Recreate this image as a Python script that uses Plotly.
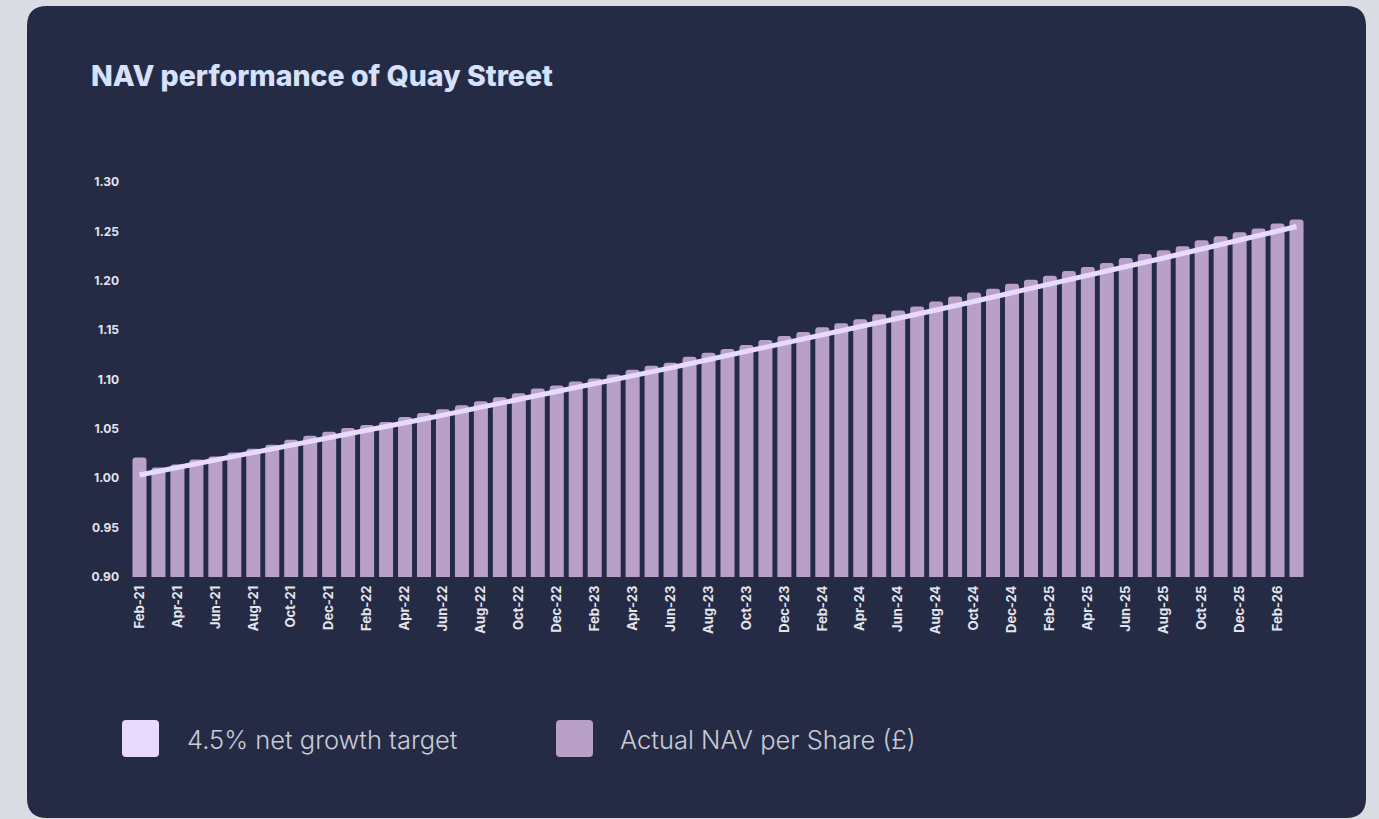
import plotly.graph_objects as go

months = [
    "Feb-21", "Mar-21", "Apr-21", "May-21", "Jun-21", "Jul-21", "Aug-21", "Sep-21", "Oct-21", "Nov-21", "Dec-21",
    "Jan-22", "Feb-22", "Mar-22", "Apr-22", "May-22", "Jun-22", "Jul-22", "Aug-22", "Sep-22", "Oct-22", "Nov-22", "Dec-22",
    "Jan-23", "Feb-23", "Mar-23", "Apr-23", "May-23", "Jun-23", "Jul-23", "Aug-23", "Sep-23", "Oct-23", "Nov-23", "Dec-23",
    "Jan-24", "Feb-24", "Mar-24", "Apr-24", "May-24", "Jun-24", "Jul-24", "Aug-24", "Sep-24", "Oct-24", "Nov-24", "Dec-24",
    "Jan-25", "Feb-25", "Mar-25", "Apr-25", "May-25", "Jun-25", "Jul-25", "Aug-25", "Sep-25", "Oct-25", "Nov-25", "Dec-25",
    "Jan-26", "Feb-26", "Mar-26",
]

nav_actual = [
    1.021, 1.011, 1.014, 1.019, 1.022, 1.026, 1.030, 1.034, 1.039, 1.043, 1.047,
    1.051, 1.054, 1.057, 1.062, 1.066, 1.070, 1.074, 1.078, 1.082, 1.086, 1.091, 1.094,
    1.098, 1.101, 1.105, 1.110, 1.114, 1.117, 1.123, 1.127, 1.131, 1.135, 1.140, 1.144,
    1.148, 1.153, 1.157, 1.161, 1.166, 1.170, 1.174, 1.179, 1.184, 1.188, 1.192, 1.197,
    1.201, 1.205, 1.210, 1.214, 1.218, 1.223, 1.227, 1.231, 1.235, 1.241, 1.245, 1.249,
    1.253, 1.258, 1.262,
]

growth_target = [
    1.0033, 1.0070, 1.0107, 1.0144, 1.0181, 1.0219, 1.0256, 1.0294, 1.0332, 1.0370, 1.0408,
    1.0446, 1.0484, 1.0523, 1.0562, 1.0600, 1.0639, 1.0678, 1.0718, 1.0757, 1.0797, 1.0836, 1.0876,
    1.0916, 1.0956, 1.0996, 1.1037, 1.1077, 1.1118, 1.1159, 1.1200, 1.1241, 1.1282, 1.1324, 1.1365,
    1.1407, 1.1449, 1.1491, 1.1533, 1.1576, 1.1618, 1.1661, 1.1704, 1.1747, 1.1790, 1.1834, 1.1877,
    1.1921, 1.1965, 1.2008, 1.2053, 1.2097, 1.2141, 1.2186, 1.2231, 1.2276, 1.2321, 1.2366, 1.2411,
    1.2457, 1.2503, 1.2549,
]

tick_labels = [
    "Feb-21", "Apr-21", "Jun-21", "Aug-21", "Oct-21", "Dec-21",
    "Feb-22", "Apr-22", "Jun-22", "Aug-22", "Oct-22", "Dec-22",
    "Feb-23", "Apr-23", "Jun-23", "Aug-23", "Oct-23", "Dec-23",
    "Feb-24", "Apr-24", "Jun-24", "Aug-24", "Oct-24", "Dec-24",
    "Feb-25", "Apr-25", "Jun-25", "Aug-25", "Oct-25", "Dec-25",
    "Feb-26",
]

y_ticks = [0.90, 0.95, 1.00, 1.05, 1.10, 1.15, 1.20, 1.25, 1.30]

series_names = ["4.5% net growth target", "Actual NAV per Share (£)"]

# ---- styling ----
PAGE_BG = "#d9dce3"
CARD_BG = "#262b45"
BAR_COLOR = "#b9a0c9"
LINE_COLOR = "#e8daff"
TITLE_COLOR = "#d6e1fb"
TICK_COLOR = "#e4e5ec"
LEGEND_TEXT = "#c9cbd6"

W, H = 1379, 819
L, R, T, B = 130, 73, 182, 242
PW = W - L - R
PH = H - T - B


def fx(px):
    return (px - L) / PW


def fy(py):
    return (H - B - py) / PH


def rounded_path(x0, y0, x1, y1, r):
    pts = [
        ("M", [(x0 + r, y0)]),
        ("L", [(x1 - r, y0)]),
        ("Q", [(x1, y0), (x1, y0 + r)]),
        ("L", [(x1, y1 - r)]),
        ("Q", [(x1, y1), (x1 - r, y1)]),
        ("L", [(x0 + r, y1)]),
        ("Q", [(x0, y1), (x0, y1 - r)]),
        ("L", [(x0, y0 + r)]),
        ("Q", [(x0, y0), (x0 + r, y0)]),
    ]
    s = ""
    for cmd, ps in pts:
        s += cmd + " " + " ".join(f"{fx(a):.6f},{fy(b):.6f}" for a, b in ps) + " "
    return s + "Z"


fig = go.Figure()

fig.add_trace(go.Bar(
    x=months, y=nav_actual, name=series_names[1],
    marker=dict(color=BAR_COLOR, line=dict(width=0)),
    showlegend=False,
))

fig.add_trace(go.Scatter(
    x=months, y=growth_target, name=series_names[0], mode="lines",
    line=dict(color=LINE_COLOR, width=5),
    showlegend=False,
))

shapes = [
    dict(type="path", xref="paper", yref="paper", layer="below",
         path=rounded_path(27, 6, 1366, 818, 20),
         fillcolor=CARD_BG, line=dict(width=0)),
    dict(type="path", xref="paper", yref="paper", layer="above",
         path=rounded_path(122, 720, 159, 757, 4),
         fillcolor=LINE_COLOR, line=dict(width=0)),
    dict(type="path", xref="paper", yref="paper", layer="above",
         path=rounded_path(556, 720, 593, 757, 4),
         fillcolor=BAR_COLOR, line=dict(width=0)),
]

annotations = [
    dict(text=series_names[0], xref="paper", yref="paper", x=fx(185), y=fy(739),
         xanchor="left", yanchor="middle", showarrow=False,
         font=dict(family="Inter", size=25.5, weight=300, color=LEGEND_TEXT)),
    dict(text=series_names[1], xref="paper", yref="paper", x=fx(618), y=fy(739),
         xanchor="left", yanchor="middle", showarrow=False,
         font=dict(family="Inter", size=25.5, weight=300, color=LEGEND_TEXT)),
]

fig.update_layout(
    width=W, height=H, autosize=False,
    margin=dict(l=L, r=R, t=T, b=B, pad=0),
    paper_bgcolor=PAGE_BG,
    plot_bgcolor="rgba(0,0,0,0)",
    bargap=0.26,
    barcornerradius=3,
    title=dict(
        text="NAV performance of Quay Street",
        x=91 / W, xref="container", xanchor="left",
        y=1 - 76 / H, yref="container", yanchor="middle",
        font=dict(family="Inter", size=28.5, weight=800, color=TITLE_COLOR),
    ),
    xaxis=dict(
        type="category", range=[-0.5, len(months) - 0.5],
        tickmode="array", tickvals=tick_labels, ticktext=tick_labels,
        tickangle=-90, showgrid=False, zeroline=False, showline=False,
        ticks="", ticklabelstandoff=5,
        tickfont=dict(family="Inter", size=13, weight=700, color=TICK_COLOR),
    ),
    yaxis=dict(
        range=[0.9, 1.3], tickmode="array", tickvals=y_ticks,
        ticktext=[f"{v:.2f}" for v in y_ticks],
        showgrid=False, zeroline=False, showline=False, ticks="",
        ticklabelstandoff=10,
        tickfont=dict(family="Inter", size=12, weight=700, color=TICK_COLOR),
    ),
    shapes=shapes,
    annotations=annotations,
    hovermode=False,
)

fig.write_html("out.html", config={"displayModeBar": False})
